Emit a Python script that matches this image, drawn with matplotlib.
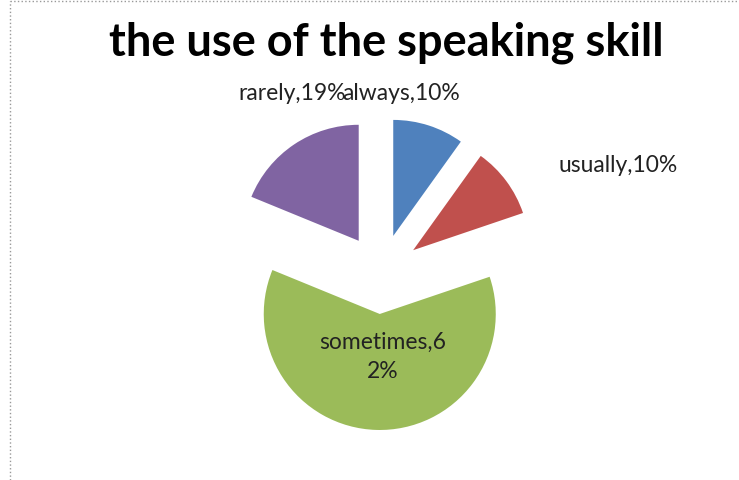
import matplotlib.pyplot as plt

categories = ['always', 'usually', 'sometimes', 'rarely']
percents = [10, 10, 62, 19]
colors = ['#4F81BD', '#C0504D', '#9BBB59', '#8064A2']

W, H = 739, 481
fig = plt.figure(figsize=(W / 100, H / 100), dpi=100)
ax = fig.add_axes([0, 0, 1, 1])
ax.set_xlim(0, W)
ax.set_ylim(0, H)
ax.set_aspect('equal')
ax.axis('off')

# pie in pixel units, every slice pulled out from the centre
# (pie's explode offset is in data units, so 40 px here)
radius = 116
ax.pie(percents, colors=colors, startangle=90, counterclock=False,
       center=(381, H - 275), radius=radius,
       explode=[40] * len(percents),
       wedgeprops=dict(linewidth=0))
ax.set_xlim(0, W)
ax.set_ylim(0, H)

font = 'Lato'
fs = 16.5
labels = [f'{c},{p}%' for c, p in zip(categories, percents)]
# label positions (pixels from top-left)
ax.text(346, H - 94, labels[3], ha='right', va='center', fontsize=fs, family=font, color='#222222')
ax.text(342, H - 94, labels[0], ha='left', va='center', fontsize=fs, family=font, color='#222222')
ax.text(559, H - 165, labels[1], ha='left', va='center', fontsize=fs, family=font, color='#222222')
ax.text(383, H - 357, 'sometimes,6\n2%', ha='center', va='center', fontsize=fs,
        family=font, linespacing=1.45, color='#222222')

ax.text(386, H - 43, 'the use of the speaking skill', ha='center', va='center',
        fontsize=32.5, fontweight='bold', family=font)

# chart frame (left and top edges only visible)
ax.plot([10, 10], [0, H - 2], color='#999999', lw=1, ls=':')
ax.plot([10, W], [H - 2, H - 2], color='#999999', lw=1, ls=':')

fig.savefig('out.png', dpi=100)
